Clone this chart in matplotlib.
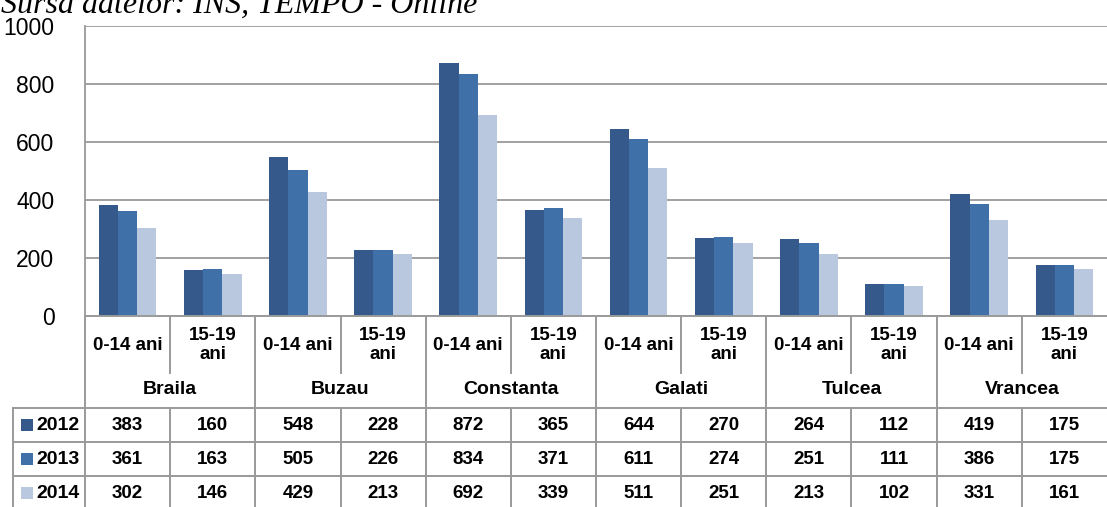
import matplotlib
matplotlib.use("Agg")
import matplotlib.pyplot as plt
from matplotlib import font_manager

# ------------------------------
# data
# ------------------------------
judete = ["Braila", "Buzau", "Constanta", "Galati", "Tulcea", "Vrancea"]
grupe = ["0-14 ani", "15-19\nani"]
ani = ["2012", "2013", "2014"]

v2012 = [383, 160, 548, 228, 872, 365, 644, 270, 264, 112, 419, 175]
v2013 = [361, 163, 505, 226, 834, 371, 611, 274, 251, 111, 386, 175]
v2014 = [302, 146, 429, 213, 692, 339, 511, 251, 213, 102, 331, 161]
serii = [v2012, v2013, v2014]

culori = ["#34598a", "#4070a8", "#bac8df"]
yticks = [0, 200, 400, 600, 800, 1000]

# ------------------------------
# fonts
# ------------------------------
nume = {f.name for f in font_manager.fontManager.ttflist}
narrow = "Liberation Sans Narrow" if "Liberation Sans Narrow" in nume else "Liberation Sans"
plt.rcParams["font.family"] = ["Liberation Sans", "DejaVu Sans"]

W, H = 1107, 507
fig = plt.figure(figsize=(W / 100, H / 100), dpi=100)

x0, x1 = 85, 1107       # pixeli, zona grafic
y_top, y_zero = 26, 316
ax = fig.add_axes([x0 / W, (H - y_zero) / H, (x1 - x0) / W, (y_zero - y_top) / H])

n = len(v2012)
ax.set_xlim(0, n)
ax.set_ylim(0, 1000)

# bare
w = 0.226
for k, (vals, c) in enumerate(zip(serii, culori)):
    xs = [i + 0.5 + (k - 1) * w for i in range(n)]
    ax.bar(xs, vals, width=w, color=c, zorder=3, linewidth=0)

# grila
gri = "#9a9a9a"
ax.set_yticks(yticks)
ax.set_yticklabels([str(t) for t in yticks], fontsize=16.5)
ax.tick_params(axis="y", length=0, pad=22)
ax.set_xticks([])
ax.grid(axis="y", color=gri, linewidth=1.3, zorder=0)
for s in ["top", "right", "bottom"]:
    ax.spines[s].set_visible(False)
ax.spines["left"].set_color(gri)
ax.spines["left"].set_linewidth(1.3)

# ------------------------------
# tabel sub grafic
# ------------------------------
trans = ax.get_xaxis_transform()
px = (y_zero - y_top)


def fy(ypx):
    # pixel -> fractiune axa
    return (y_zero - ypx) / px


col_px = (x1 - x0) / n


def fx(xpx):
    return (xpx - x0) / col_px


lw = 1.4
kw = dict(color=gri, linewidth=lw, transform=trans, clip_on=False, zorder=4)

# linia de baza
ax.plot([0, n], [fy(y_zero), fy(y_zero)], **kw)
# linii verticale
ax.plot([0, 0], [fy(y_zero), fy(H + 5)], **kw)
for i in range(1, n):
    if i % 2 == 0:
        ax.plot([i, i], [fy(y_zero), fy(H + 5)], **kw)
    else:
        ax.plot([i, i], [fy(y_zero), fy(373)], **kw)
        ax.plot([i, i], [fy(408), fy(H + 5)], **kw)
# legenda coloana
ax.plot([fx(13), fx(13)], [fy(408), fy(H + 5)], **kw)
row_lines = [408, 442, 476]
for yl in row_lines:
    ax.plot([fx(13), n], [fy(yl), fy(yl)], **kw)

fs_tab = 13.5
for i in range(n):
    ax.text(i + 0.5, fy(345), grupe[i % 2], transform=trans, ha="center", va="center",
            fontsize=fs_tab, fontweight="bold", family=narrow, linespacing=1.1)
for g, jud in enumerate(judete):
    ax.text(2 * g + 1, fy(390), jud, transform=trans, ha="center", va="center",
            fontsize=fs_tab + 0.5, fontweight="bold", family=narrow)

row_y = [425, 459, 493]
for k, (an, vals, c) in enumerate(zip(ani, serii, culori)):
    yc = row_y[k]
    ax.scatter([fx(26.5)], [fy(yc)], marker="s", s=65, color=c, transform=trans,
               clip_on=False, zorder=5, linewidths=0)
    ax.text(fx(36), fy(yc), an, transform=trans, ha="left", va="center",
            fontsize=fs_tab + 0.5, fontweight="bold", family=narrow)
    for i, v in enumerate(vals):
        ax.text(i + 0.5, fy(yc), str(v), transform=trans, ha="center", va="center",
                fontsize=fs_tab, fontweight="bold", family=narrow)

# sursa (taiata sus)
fig.text(1 / W, 1 - 13 / H, "Sursa datelor: INS, TEMPO - Online", ha="left", va="baseline",
         fontsize=23, style="italic", family="Liberation Serif")

fig.savefig("out.png", dpi=100)
